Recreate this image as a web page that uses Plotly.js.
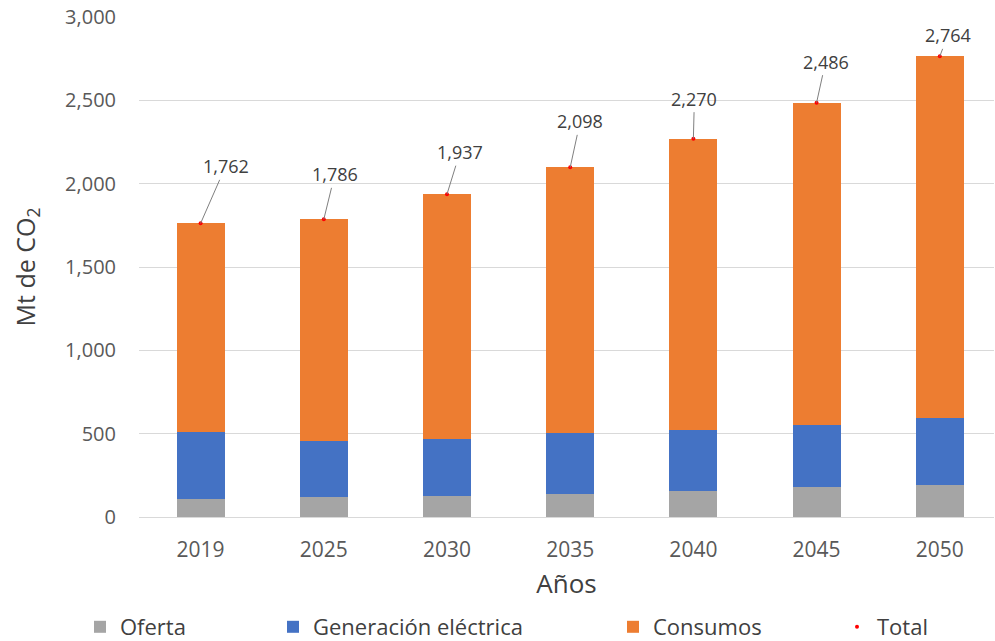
<!DOCTYPE html>
<html>
<head>
<meta charset="utf-8">
<script src="https://cdn.plot.ly/plotly-3.0.1.min.js"></script>
<style>
  html, body { margin: 0; padding: 0; background: #ffffff; }
  #chart { width: 995px; height: 641px; }
</style>
</head>
<body>
<div id="chart"></div>
<script>
// Emisiones de CO2 por sector (Mt de CO2)
const years = ['2019', '2025', '2030', '2035', '2040', '2045', '2050'];
const oferta = [108, 118, 124, 139, 158, 178, 192];
const generacion = [402, 336, 344, 368, 366, 374, 400];
const consumos = [1252, 1332, 1469, 1591, 1746, 1934, 2172];
const total = [1762, 1786, 1937, 2098, 2270, 2486, 2764];

// Pixel offsets of each callout label from its point
const calloutDX = [25, 11, 13, 10, 1, 9, 8];
const calloutDY = [-57, -45, -42, -46, -40, -41, -21];

const FONT = 'Open Sans, sans-serif';
const TICK_COLOR = '#595959';
const TITLE_COLOR = '#404040';

function thousands(v) {
  return String(v).replace(/\B(?=(\d{3})+(?!\d))/g, ',');
}

const traces = [
  { type: 'bar', name: 'Oferta', x: years, y: oferta,
    marker: { color: '#A5A5A5' }, legend: 'legend' },
  { type: 'bar', name: 'Generación eléctrica', x: years, y: generacion,
    marker: { color: '#4472C4' }, legend: 'legend2' },
  { type: 'bar', name: 'Consumos', x: years, y: consumos,
    marker: { color: '#ED7D31' }, legend: 'legend3' },
  { type: 'scatter', mode: 'markers', name: 'Total', x: years, y: total,
    marker: { color: '#FF0000', size: 4 }, legend: 'legend4' }
];

// Callout labels with leader lines for the totals
const annotations = [];
for (let i = 0; i < years.length; i++) {
  annotations.push({
    x: i, y: total[i], xref: 'x', yref: 'y',
    text: thousands(total[i]),
    showarrow: true, arrowhead: 0, arrowwidth: 1, arrowcolor: '#7f7f7f',
    ax: calloutDX[i], ay: calloutDY[i],
    font: { family: FONT, size: 18, color: TITLE_COLOR }
  });
}

function legendAt(px) {
  return {
    orientation: 'h', xref: 'container', yref: 'container',
    x: px / 995, y: (641 - 627) / 641, xanchor: 'left', yanchor: 'middle',
    font: { family: FONT, size: 22, color: TITLE_COLOR },
    bgcolor: 'rgba(0,0,0,0)', borderwidth: 0
  };
}

const layout = {
  width: 995, height: 641,
  margin: { l: 139, r: 1, t: 17, b: 124 },
  paper_bgcolor: '#ffffff', plot_bgcolor: '#ffffff',
  barmode: 'stack', bargap: 0.61,
  showlegend: true,
  legend: legendAt(80),
  legend2: legendAt(273),
  legend3: legendAt(613),
  legend4: legendAt(837),
  xaxis: {
    type: 'category', range: [-0.5, 6.44],
    showgrid: false, zeroline: false, showline: false, ticks: '',
    ticklabelstandoff: 18,
    tickfont: { family: FONT, size: 21, color: TICK_COLOR },
    title: { text: 'Años', standoff: 12, font: { family: FONT, size: 26, color: TITLE_COLOR } }
  },
  yaxis: {
    range: [0, 3000], dtick: 500, tickformat: ',',
    showgrid: true, gridcolor: '#d9d9d9', gridwidth: 1,
    zeroline: true, zerolinecolor: '#d9d9d9', zerolinewidth: 1,
    showline: false, ticks: '', ticklabelstandoff: 22,
    tickfont: { family: FONT, size: 20, color: TICK_COLOR },
    title: { text: 'Mt de CO<sub>2</sub>', standoff: 22, font: { family: FONT, size: 25, color: TITLE_COLOR } }
  },
  annotations: annotations,
  font: { family: FONT }
};

Plotly.newPlot('chart', traces, layout, { displayModeBar: false });
</script>
</body>
</html>
